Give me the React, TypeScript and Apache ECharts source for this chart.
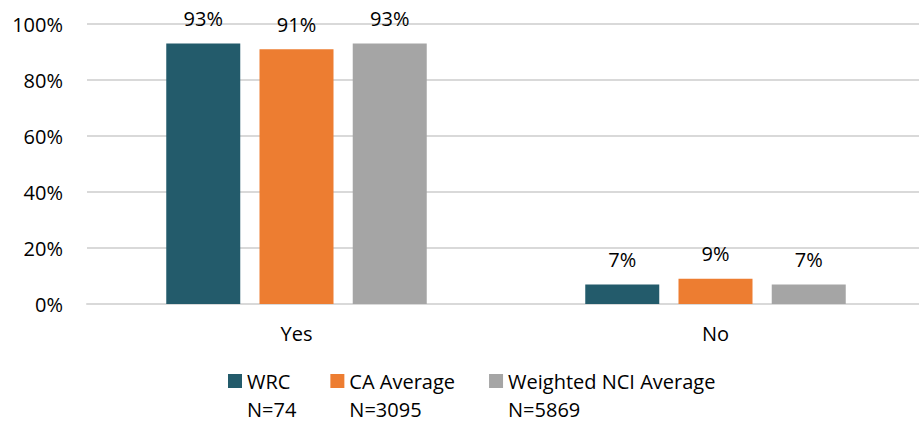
import React, { useEffect, useRef } from "react";
import * as echarts from "echarts";

const categories = ["Yes", "No"];
const seriesNames = ["WRC", "CA Average", "Weighted NCI Average"];
const seriesN = ["N=74", "N=3095", "N=5869"];
const wrcValues = [93, 7];
const caValues = [91, 9];
const nciValues = [93, 7];
const colors = ["#235B6B", "#ED7D31", "#A5A5A5"];
const yTicks = [0, 20, 40, 60, 80, 100];

export default function App() {
  const ref = useRef<HTMLDivElement>(null);
  useEffect(() => {
    document.body.style.margin = "0";
    const chart = echarts.init(ref.current!, null, { renderer: "svg" });
    const font = "'Open Sans', sans-serif";
    const fs = 20;
    const values = [wrcValues, caValues, nciValues];
    chart.setOption({
      animation: false,
      textStyle: { fontFamily: font },
      grid: { left: 87, right: 0, top: 24, bottom: 126 },
      xAxis: {
        type: "category",
        data: categories,
        axisTick: { show: false },
        axisLine: { lineStyle: { color: "#D9D9D9", width: 2 } },
        axisLabel: { color: "#000", fontSize: fs, margin: 19, fontFamily: font },
      },
      yAxis: {
        type: "value",
        min: yTicks[0],
        max: yTicks[yTicks.length - 1],
        interval: 20,
        axisLine: { show: false },
        axisTick: { show: false },
        splitLine: { lineStyle: { color: "#D9D9D9", width: 2 } },
        axisLabel: {
          color: "#000",
          fontSize: fs,
          margin: 24,
          fontFamily: font,
          formatter: (v: number) => v + "%",
        },
      },
      legend: {
        left: 228,
        top: 343,
        padding: 0,
        itemWidth: 14,
        itemHeight: 14,
        itemGap: 34,
        icon: "rect",
        data: seriesNames,
        formatter: (name: string) => {
          const i = seriesNames.indexOf(name);
          return "{e| }\n{a|" + name + "}\n{a|" + seriesN[i] + "}";
        },
        textStyle: {
          fontFamily: font,
          rich: {
            e: { fontSize: fs, lineHeight: 28, fontFamily: font },
            a: { fontSize: fs, lineHeight: 28, color: "#000", fontFamily: font },
          },
        },
      },
      series: seriesNames.map((name, i) => ({
        name,
        type: "bar",
        data: values[i],
        barWidth: 74,
        barGap: "26%",
        itemStyle: { color: colors[i] },
        label: {
          show: true,
          position: "top",
          distance: 15,
          color: "#000",
          fontSize: fs,
          fontFamily: font,
          formatter: (p: any) => p.value + "%",
        },
      })),
    });
    return () => chart.dispose();
  }, []);
  return (
    <div style={{ width: 919, height: 430, overflow: "hidden" }}>
      <div ref={ref} style={{ width: 925, height: 430 }} />
    </div>
  );
}
